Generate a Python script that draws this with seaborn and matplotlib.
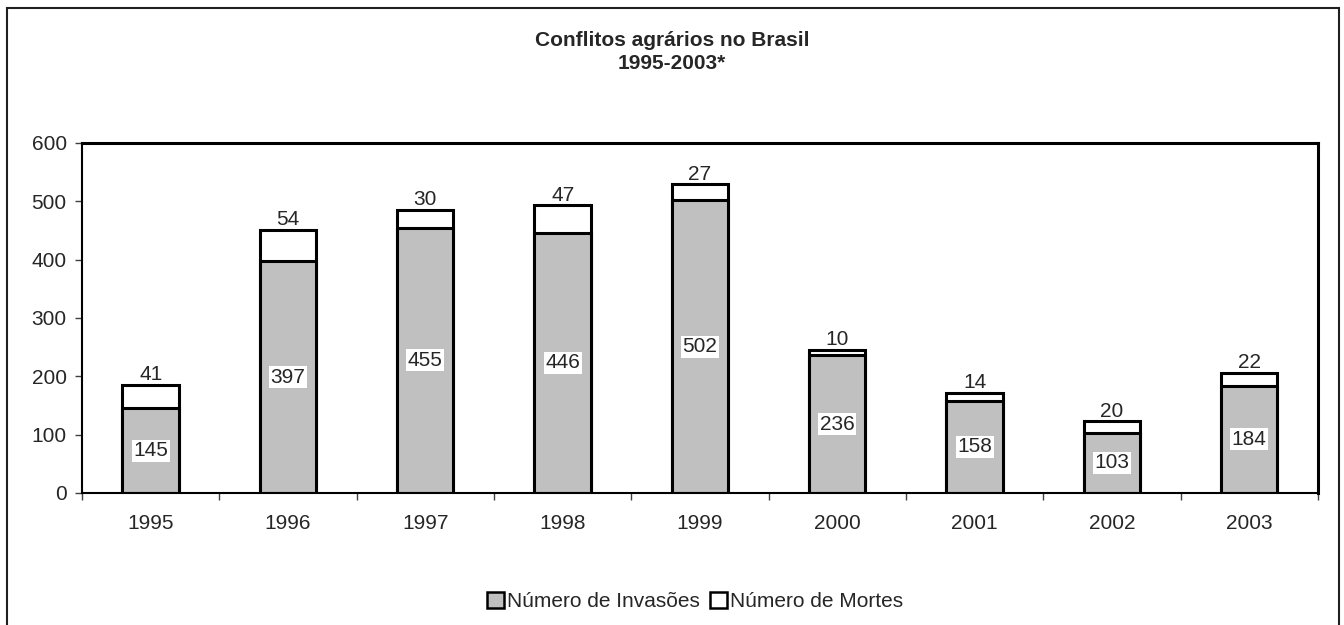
import matplotlib
matplotlib.use("Agg")
import matplotlib.pyplot as plt
from matplotlib.patches import Rectangle, Patch
import seaborn as sns
import pandas as pd
import numpy as np

anos = ["1995", "1996", "1997", "1998", "1999", "2000", "2001", "2002", "2003"]
invasoes = [145, 397, 455, 446, 502, 236, 158, 103, 184]
mortes = [41, 54, 30, 47, 27, 10, 14, 20, 22]

df = pd.DataFrame({"Ano": anos, "Invasoes": invasoes, "Mortes": mortes})
df["Total"] = df["Invasoes"] + df["Mortes"]

sns.set_style("white")
plt.rcParams["font.family"] = ["Liberation Sans", "DejaVu Sans"]

fig = plt.figure(figsize=(13.44, 6.25), dpi=100)
ax = fig.add_axes([0.061, 0.2112, 0.9196, 0.56])

# stacked bars: total first (white), then invasions drawn over it (gray)
sns.barplot(data=df, x="Ano", y="Total", color="white", edgecolor="black",
            linewidth=2.2, width=0.41, saturation=1, ax=ax)
sns.barplot(data=df, x="Ano", y="Invasoes", color="#c0c0c0", edgecolor="black",
            linewidth=2.2, width=0.41, saturation=1, ax=ax)

for i, row in df.iterrows():
    ax.text(i, row["Invasoes"] / 2, str(row["Invasoes"]), ha="center", va="center",
            fontsize=15, bbox=dict(facecolor="white", edgecolor="none", pad=1))
    ax.text(i, row["Total"] + 1, str(row["Mortes"]), ha="center", va="bottom", fontsize=15)

ax.set_ylim(0, 600)
ax.set_xlim(-0.5, len(anos) - 0.5)
ax.set_yticks(np.arange(0, 601, 100))
ax.set_xlabel("")
ax.set_ylabel("")
ax.tick_params(axis="y", labelsize=15, length=5, width=1, color="#404040",
               direction="out", left=True, pad=6)
ax.tick_params(axis="x", labelsize=15, length=0, pad=15)
ax.set_xticks(np.arange(-0.5, len(anos) + 0.5, 1), minor=True)
ax.tick_params(axis="x", which="minor", length=5, width=1, color="#404040",
               direction="out", bottom=True)
for sp in ax.spines.values():
    sp.set_visible(True)
    sp.set_color("black")
    sp.set_linewidth(1.5)
ax.spines["top"].set_linewidth(2.2)
ax.spines["right"].set_linewidth(2.2)

fig.text(0.5, 0.936, "Conflitos agrários no Brasil", ha="center", va="center",
         fontsize=15, fontweight="bold")
fig.text(0.5, 0.899, "1995-2003*", ha="center", va="center",
         fontsize=15, fontweight="bold")

handles = [Patch(facecolor="#c0c0c0", edgecolor="black", linewidth=1.8, label="Número de Invasões"),
           Patch(facecolor="white", edgecolor="black", linewidth=1.8, label="Número de Mortes")]
fig.legend(handles=handles, loc="center", bbox_to_anchor=(0.517, 0.038), ncol=2, frameon=False,
           fontsize=15, handlelength=0.8, handleheight=0.8, handletextpad=0.15,
           columnspacing=0.5, borderpad=0)

fig.patches.append(Rectangle((0.0055, -0.01), 0.9905, 0.9978, transform=fig.transFigure,
                             fill=False, edgecolor="#202020", linewidth=1.5))

fig.savefig("out.png", dpi=100)
